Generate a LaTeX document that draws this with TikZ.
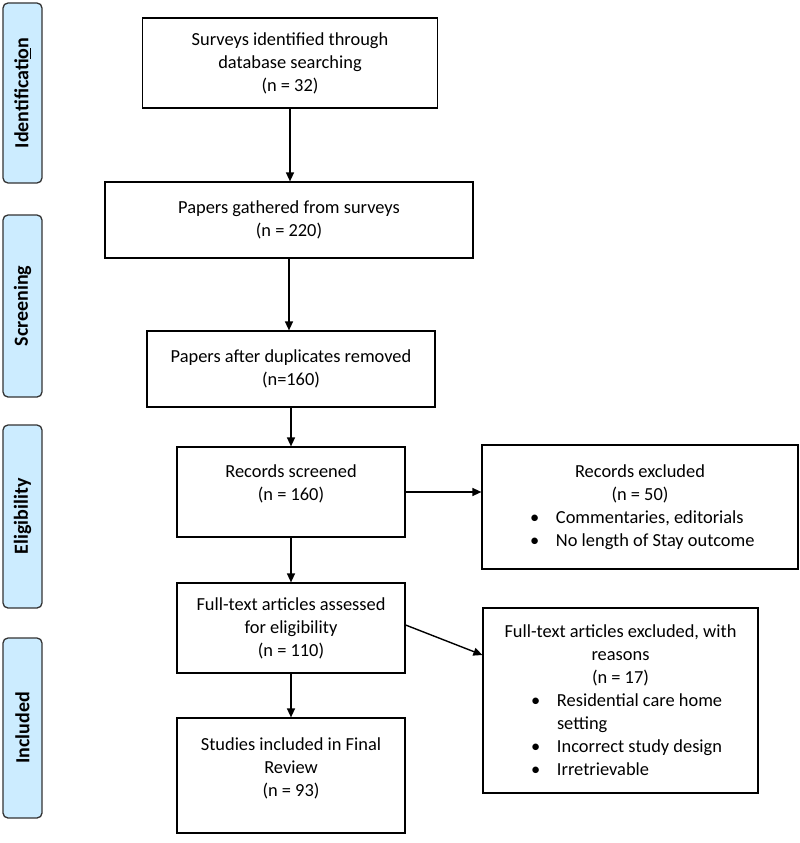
\documentclass[tikz,border=0pt]{standalone}
\usepackage{fontspec}
\setmainfont{Carlito}
\usetikzlibrary{arrows.meta,positioning}
\definecolor{stagefill}{RGB}{204,236,255}
\newcommand{\itm}[2]{\makebox[#1][l]{\makebox[26pt][l]{\textbullet}#2}}
\newcommand{\itmcont}[2]{\makebox[#1][l]{\hspace{26pt}#2}}
\begin{document}
\begin{tikzpicture}[
	x=1pt, y=-1pt,
	font=\fontsize{18.4}{23}\selectfont,
	box/.style={draw, line width=1.2pt, align=center, inner sep=0pt},
	side/.style={draw=black!80, line width=1.3pt, fill=stagefill, rounded corners=5pt,
		rotate=90, minimum width=#1, minimum height=39pt,
		font=\fontsize{20}{24}\selectfont\bfseries},
	arr/.style={line width=1.4pt, -{Triangle[length=9pt,width=8pt]}},
	]
\useasboundingbox (0,0) rectangle (800,843);
\node [side=180pt] (ident) at (22.5,93) {Identificati\underline{o}n};
\node [side=182pt] (scrn) at (22.5,306) {Screening};
\node [side=183pt] (elig) at (22.5,516.5) {Eligibility};
\node [side=180pt] (incl) at (22.5,728) {Included};
\node [box, minimum width=295pt, minimum height=90pt] (surv) at (290,63)
	{Surveys identified through\\database searching\\(n = 32)};
\node [box, minimum width=368pt, minimum height=76pt] (gath) at (289,220)
	{Papers gathered from surveys\\(n = 220)};
\node [box, minimum width=288pt, minimum height=76pt] (dup) at (291,369)
	{Papers after duplicates removed\\(n=160)};
\node [box, minimum width=228pt, minimum height=90pt] (scr) at (291,492)
	{Records screened\\(n = 160)\rule[-18pt]{0pt}{0pt}};
\node [box, minimum width=316pt, minimum height=124pt] (rexc) at (640,507)
	{Records excluded\\(n = 50)\\
	\itm{220pt}{Commentaries, editorials}\\
	\itm{220pt}{No length of Stay outcome}};
\node [box, minimum width=228pt, minimum height=90pt] (full) at (291,628)
	{Full-text articles assessed\\for eligibility\\(n = 110)};
\node [box, minimum width=228pt, minimum height=115pt] (stud) at (291,775.5)
	{Studies included in Final\\Review\\(n = 93)\rule[-17pt]{0pt}{0pt}};
\node [box, minimum width=275pt, minimum height=185pt] (fexc) at (620.5,700.5)
	{Full-text articles excluded, with\\reasons\\(n = 17)\\
	\itm{179pt}{Residential care home}\\
	\itmcont{179pt}{setting}\\
	\itm{179pt}{Incorrect study design}\\
	\itm{179pt}{Irretrievable}};
\draw [arr] (surv.south) -- (surv.south |- gath.north);
\draw [arr] (gath.south) -- (gath.south |- dup.north);
\draw [arr] (dup.south) -- (dup.south |- scr.north);
\draw [arr] (scr.east) -- (scr.east -| rexc.west);
\draw [arr] (scr.south) -- (full.north);
\draw [arr] ([yshift=3pt]full.east) -- ([yshift=45.5pt]fexc.west);
\draw [arr] (full.south) -- (stud.north);
\end{tikzpicture}
\end{document}
